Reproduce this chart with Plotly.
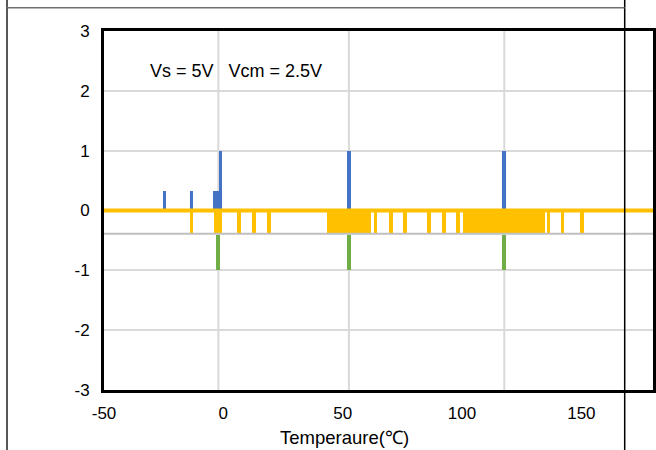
import plotly.graph_objects as go

# ---- data ----
blue_x = [-24.6, -13.4, -2.4, -1.2, 52.6, 117.7]
blue_w = [1.5, 1.5, 3.6, 1.5, 1.6, 1.6]
blue_h = [0.33, 0.33, 0.33, 1.0, 1.0, 1.0]

yellow_x = [-13.4, -2.25, 6.6, 12.85, 19.1, 52.6, 63.7, 70.35, 76.2, 86.2,
            92.4, 98.3, 117.5, 136.3, 142.0, 150.35]
yellow_w = [1.5, 3.5, 1.5, 1.5, 1.5, 18.6, 1.5, 1.5, 1.5, 1.5,
            1.5, 1.5, 34.2, 1.5, 1.5, 1.5]
yellow_depth = -0.37

green_x = [-2.1, 52.6, 117.7]
green_w = [1.6, 1.6, 1.6]
green_top = -0.41
green_bottom = -1.0

grid_x = [-2.1, 52.6, 117.7]
ref_level = -0.39
x_range = [-50, 180]
y_range = [-3, 3]
x_ticks = [-50, 0, 50, 100, 150]
x_ticktext = ["-50", "0", "50", "100", "150"]
y_ticks = [-3, -2, -1, 0, 1, 2, 3]
y_ticktext = ["-3", "-2", "-1", "0", "1", "2", "3"]
label_text = "Vs = 5V&nbsp;&nbsp;&nbsp;Vcm = 2.5V"
x_title = "Temperaure(℃)"

W, H = 656, 450
ML, MR, MT, MB = 104, 3, 31, 60
PW, PH = W - ML - MR, H - MT - MB


def px(xp):
    return (xp - ML) / PW


def py(yp):
    return (H - MB - yp) / PH


FONT = "Liberation Sans, Arial, sans-serif"
BLUE, YELLOW, GREEN = "#4472c4", "#ffc000", "#70ad47"

fig = go.Figure()
fig.add_trace(go.Bar(x=blue_x, y=blue_h, width=blue_w, base=[0] * len(blue_x),
                     marker=dict(color=BLUE, line=dict(width=0)), showlegend=False))
fig.add_trace(go.Bar(x=yellow_x, y=[yellow_depth] * len(yellow_x), width=yellow_w,
                     base=[0] * len(yellow_x),
                     marker=dict(color=YELLOW, line=dict(width=0)), showlegend=False))
fig.add_trace(go.Bar(x=green_x, y=[green_bottom - green_top] * len(green_x), width=green_w,
                     base=[green_top] * len(green_x),
                     marker=dict(color=GREEN, line=dict(width=0)), showlegend=False))
fig.add_trace(go.Scatter(x=x_range, y=[0, 0], mode="lines",
                         line=dict(color=YELLOW, width=4), showlegend=False, cliponaxis=False))
fig.add_trace(go.Scatter(x=x_range, y=[ref_level, ref_level], mode="lines",
                         line=dict(color="#bfbfbf", width=2), showlegend=False))

shapes = []
for gx in grid_x:
    shapes.append(dict(type="line", xref="x", yref="paper", x0=gx, x1=gx, y0=0, y1=1,
                       line=dict(color="#d9d9d9", width=2), layer="below"))
# outer frame lines
shapes.append(dict(type="line", xref="paper", yref="paper", x0=px(7), x1=px(7),
                   y0=py(0), y1=py(H), line=dict(color="#202020", width=1.5)))
shapes.append(dict(type="line", xref="paper", yref="paper", x0=px(624.7), x1=px(624.7),
                   y0=py(0), y1=py(H), line=dict(color="#000000", width=1.5)))
shapes.append(dict(type="line", xref="paper", yref="paper", x0=px(7), x1=px(624.7),
                   y0=py(7.8), y1=py(7.8), line=dict(color="#707070", width=1.5)))

fig.update_layout(
    width=W, height=H, margin=dict(l=ML, r=MR, t=MT, b=MB, autoexpand=False),
    paper_bgcolor="white", plot_bgcolor="white", barmode="overlay", bargap=0,
    font=dict(family=FONT, size=17, color="#000000"),
    shapes=shapes,
    annotations=[
        dict(x=px(148), y=py(71), xref="paper", yref="paper", text=label_text,
             showarrow=False, xanchor="left", yanchor="middle",
             font=dict(family=FONT, size=18, color="#000000")),
        dict(x=px(344), y=py(437), xref="paper", yref="paper", text=x_title,
             showarrow=False, xanchor="center", yanchor="middle",
             font=dict(family=FONT, size=18.5, color="#000000")),
    ],
)
fig.update_xaxes(range=x_range, tickvals=x_ticks, ticktext=x_ticktext, showgrid=False,
                 zeroline=False, automargin=False,
                 showline=True, linecolor="black", linewidth=3, mirror=True,
                 ticks="", ticklabelstandoff=6, tickfont=dict(size=17))
fig.update_yaxes(range=y_range, tickvals=y_ticks, ticktext=y_ticktext, showgrid=True,
                 gridcolor="#d9d9d9", gridwidth=2, zeroline=False, automargin=False,
                 showline=True, linecolor="black", linewidth=3, mirror=True,
                 ticks="", ticklabelstandoff=8, tickfont=dict(size=17))

fig.write_html("out.html", config={"displayModeBar": False},
               post_script="document.body.style.margin='0';document.body.style.padding='0';")
